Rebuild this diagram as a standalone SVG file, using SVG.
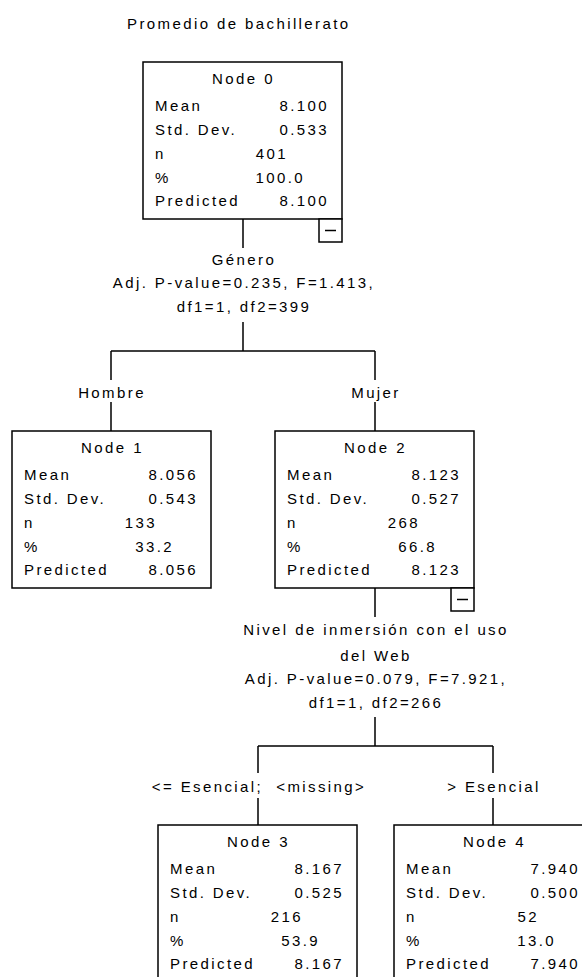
<svg xmlns="http://www.w3.org/2000/svg" width="582" height="977" viewBox="0 0 582 977">
<style>
text{font-family:"Liberation Sans",Arial,sans-serif;font-size:15px;letter-spacing:2.4px;fill:#000}
.c{text-anchor:middle}
.r{text-anchor:end}
.pre{white-space:pre}
.box{fill:#fff;stroke:#000;stroke-width:1.5}
.ln{fill:none;stroke:#000;stroke-width:1.5}
</style>
<rect x="0" y="0" width="582" height="977" fill="#fff"/>
<text id="title" x="127" y="29">Promedio de bachillerato</text>
<g id="connectors">
<path class="ln" d="M243 219V248M243 322V351M111 351H375M111 351V380M375 351V380M111 402V431M375 402V431M375 588V617M375 717V746M258 746H493M258 746V773M493 746V773M258 798V825M493 798V825"/>
<text class="c" x="244" y="265">Género</text>
<text class="c" x="244" y="288">Adj. P-value=0.235, F=1.413,</text>
<text class="c" x="244" y="312">df1=1, df2=399</text>
<text class="c" x="112" y="398">Hombre</text>
<text class="c" x="376" y="398">Mujer</text>
<text class="c" x="376" y="635">Nivel de inmersión con el uso</text>
<text class="c" x="376" y="661">del Web</text>
<text class="c" x="376" y="684">Adj. P-value=0.079, F=7.921,</text>
<text class="c" x="376" y="708">df1=1, df2=266</text>
<text class="c pre" x="259" y="792">&lt;= Esencial;  &lt;missing&gt;</text>
<text class="c" x="494" y="792">&gt; Esencial</text>
</g>
<g id="node0" transform="translate(143,62)">
<rect class="box" x="0" y="0" width="199" height="157"/>
<text class="c" x="100.5" y="22">Node 0</text>
<text x="12" y="49">Mean</text><text class="r" x="186" y="49">8.100</text>
<text x="12" y="73">Std. Dev.</text><text class="r" x="186" y="73">0.533</text>
<text x="12" y="97">n</text><text class="r" x="145" y="97">401</text>
<text x="12" y="121">%</text><text class="r" x="162" y="121">100.0</text>
<text x="12" y="144">Predicted</text><text class="r" x="186" y="144">8.100</text>
<rect class="box" x="176" y="157" width="23" height="23"/>
<path class="ln" d="M182 168.5H193"/>
</g>
<g id="node1" transform="translate(12,431)">
<rect class="box" x="0" y="0" width="199" height="157"/>
<text class="c" x="100.5" y="22">Node 1</text>
<text x="12" y="49">Mean</text><text class="r" x="186" y="49">8.056</text>
<text x="12" y="73">Std. Dev.</text><text class="r" x="186" y="73">0.543</text>
<text x="12" y="97">n</text><text class="r" x="145" y="97">133</text>
<text x="12" y="121">%</text><text class="r" x="162" y="121">33.2</text>
<text x="12" y="144">Predicted</text><text class="r" x="186" y="144">8.056</text>
</g>
<g id="node2" transform="translate(275,431)">
<rect class="box" x="0" y="0" width="199" height="157"/>
<text class="c" x="100.5" y="22">Node 2</text>
<text x="12" y="49">Mean</text><text class="r" x="186" y="49">8.123</text>
<text x="12" y="73">Std. Dev.</text><text class="r" x="186" y="73">0.527</text>
<text x="12" y="97">n</text><text class="r" x="145" y="97">268</text>
<text x="12" y="121">%</text><text class="r" x="162" y="121">66.8</text>
<text x="12" y="144">Predicted</text><text class="r" x="186" y="144">8.123</text>
<rect class="box" x="176" y="157" width="23" height="23"/>
<path class="ln" d="M182 168.5H193"/>
</g>
<g id="node3" transform="translate(158,825)">
<rect class="box" x="0" y="0" width="199" height="157"/>
<text class="c" x="100.5" y="22">Node 3</text>
<text x="12" y="49">Mean</text><text class="r" x="186" y="49">8.167</text>
<text x="12" y="73">Std. Dev.</text><text class="r" x="186" y="73">0.525</text>
<text x="12" y="97">n</text><text class="r" x="145" y="97">216</text>
<text x="12" y="121">%</text><text class="r" x="162" y="121">53.9</text>
<text x="12" y="144">Predicted</text><text class="r" x="186" y="144">8.167</text>
</g>
<g id="node4" transform="translate(394,825)">
<rect class="box" x="0" y="0" width="199" height="157"/>
<text class="c" x="100.5" y="22">Node 4</text>
<text x="12" y="49">Mean</text><text class="r" x="186" y="49">7.940</text>
<text x="12" y="73">Std. Dev.</text><text class="r" x="186" y="73">0.500</text>
<text x="12" y="97">n</text><text class="r" x="145" y="97">52</text>
<text x="12" y="121">%</text><text class="r" x="162" y="121">13.0</text>
<text x="12" y="144">Predicted</text><text class="r" x="186" y="144">7.940</text>
</g>
</svg>
